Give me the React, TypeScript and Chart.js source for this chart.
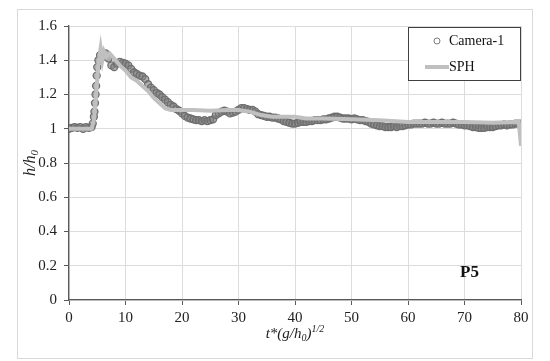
import { useEffect, useRef } from "react";
import { Chart, registerables } from "chart.js";
Chart.register(...registerables);

const camT = [0, 0.5, 1, 1.5, 2, 2.5, 3, 3.5, 4, 4.2, 4.4, 4.5, 4.6, 4.7, 4.8, 4.9, 5, 5.2, 5.5, 6, 6.5, 7, 7.5, 8, 8.5, 9, 9.5, 10, 10.5, 11, 11.5, 12, 12.5, 13, 13.5, 14, 14.5, 15, 15.5, 16, 16.5, 17, 17.5, 18, 18.5, 19, 19.5, 20, 20.5, 21, 21.5, 22, 22.5, 23, 23.5, 24, 24.5, 25, 25.5, 26, 26.5, 27, 27.5, 28, 28.5, 29, 29.5, 30, 30.5, 31, 31.5, 32, 32.5, 33, 33.5, 34, 34.5, 35, 35.5, 36, 36.5, 37, 37.5, 38, 38.5, 39, 39.5, 40, 40.5, 41, 41.5, 42, 42.5, 43, 43.5, 44, 44.5, 45, 45.5, 46, 46.5, 47, 47.5, 48, 48.5, 49, 49.5, 50, 50.5, 51, 51.5, 52, 52.5, 53, 53.5, 54, 54.5, 55, 55.5, 56, 56.5, 57, 57.5, 58, 58.5, 59, 59.5, 60, 60.5, 61, 61.5, 62, 62.5, 63, 63.5, 64, 64.5, 65, 65.5, 66, 66.5, 67, 67.5, 68, 68.5, 69, 69.5, 70, 70.5, 71, 71.5, 72, 72.5, 73, 73.5, 74, 74.5, 75, 75.5, 76, 76.5, 77, 77.5, 78, 78.5, 79, 79.5, 80];
const camH = [1.0, 1.005, 1.01, 1.005, 1.01, 1.0, 1.01, 1.005, 1.01, 1.03, 1.07, 1.1, 1.15, 1.2, 1.25, 1.31, 1.36, 1.4, 1.43, 1.42, 1.44, 1.41, 1.37, 1.36, 1.38, 1.39, 1.385, 1.38, 1.37, 1.35, 1.33, 1.32, 1.31, 1.305, 1.29, 1.26, 1.24, 1.225, 1.21, 1.2, 1.185, 1.17, 1.155, 1.14, 1.13, 1.115, 1.105, 1.09, 1.075, 1.065, 1.06, 1.055, 1.05, 1.05, 1.045, 1.05, 1.045, 1.05, 1.055, 1.08, 1.09, 1.1, 1.105, 1.1, 1.09, 1.095, 1.1, 1.11, 1.12, 1.12, 1.115, 1.11, 1.11, 1.1, 1.085, 1.08, 1.075, 1.07, 1.07, 1.065, 1.065, 1.06, 1.055, 1.045, 1.04, 1.035, 1.03, 1.03, 1.035, 1.04, 1.04, 1.04, 1.045, 1.045, 1.05, 1.05, 1.05, 1.055, 1.055, 1.06, 1.065, 1.07, 1.07, 1.065, 1.06, 1.06, 1.06, 1.055, 1.06, 1.055, 1.05, 1.05, 1.045, 1.04, 1.03, 1.025, 1.02, 1.015, 1.015, 1.01, 1.01, 1.01, 1.015, 1.01, 1.015, 1.015, 1.02, 1.025, 1.025, 1.03, 1.03, 1.03, 1.03, 1.035, 1.03, 1.03, 1.035, 1.03, 1.03, 1.035, 1.03, 1.03, 1.03, 1.035, 1.03, 1.025, 1.025, 1.02, 1.02, 1.015, 1.01, 1.01, 1.005, 1.005, 1.005, 1.01, 1.01, 1.01, 1.015, 1.02, 1.02, 1.025, 1.02, 1.025, 1.025, 1.03, 1.03, 1.03];

const sphT = [0, 4.0, 4.4, 4.8, 5.2, 5.6, 5.9, 6.2, 6.6, 7.2, 8.0, 9.0, 10.0, 11.0, 12.0, 13.0, 14.0, 15.0, 16.0, 17.0, 18.0, 20, 22, 25, 28, 30, 32, 34, 36, 40, 42, 45, 50, 55, 60, 65, 70, 75, 79.6, 80];
const sphH = [1.0, 1.0, 1.05, 1.2, 1.38, 1.47, 1.4, 1.45, 1.42, 1.44, 1.41, 1.37, 1.34, 1.3, 1.28, 1.25, 1.22, 1.18, 1.15, 1.12, 1.11, 1.11, 1.11, 1.105, 1.11, 1.11, 1.1, 1.08, 1.07, 1.07, 1.06, 1.06, 1.055, 1.05, 1.04, 1.04, 1.04, 1.035, 1.04, 0.9];

const seriesNames = ["Camera-1", "SPH"];
const panelLabel = "P5";

const SERIF = "'Liberation Serif', 'DejaVu Serif', serif";

type Part = { text: string; font: string; dy: number };

function drawRich(ctx: CanvasRenderingContext2D, parts: Part[], x: number, y: number) {
  let w = 0;
  for (const p of parts) {
    ctx.font = p.font;
    w += ctx.measureText(p.text).width;
  }
  let cx = x - w / 2;
  ctx.textBaseline = "middle";
  ctx.textAlign = "left";
  for (const p of parts) {
    ctx.font = p.font;
    ctx.fillText(p.text, cx, y + p.dy);
    cx += ctx.measureText(p.text).width;
  }
}

const deco = {
  id: "deco",
  beforeDraw(chart: any) {
    const ctx = chart.ctx as CanvasRenderingContext2D;
    ctx.save();
    ctx.fillStyle = "#ffffff";
    ctx.fillRect(0, 0, chart.width, chart.height);
    ctx.strokeStyle = "#d9d9d9";
    ctx.lineWidth = 1;
    ctx.strokeRect(17.5, 9.5, 515, 349);
    ctx.restore();
  },
  afterDraw(chart: any) {
    const ctx = chart.ctx as CanvasRenderingContext2D;
    const area = chart.chartArea;
    ctx.save();
    ctx.fillStyle = "#222222";
    const it = `italic 15px ${SERIF}`;
    const itS = `italic 10px ${SERIF}`;
    drawRich(
      ctx,
      [
        { text: "t*(g/h", font: it, dy: 0 },
        { text: "0", font: itS, dy: 4 },
        { text: ")", font: it, dy: 0 },
        { text: "1/2", font: itS, dy: -5 },
      ],
      (area.left + area.right) / 2,
      334
    );
    ctx.save();
    ctx.translate(31, (area.top + area.bottom) / 2);
    ctx.rotate(-Math.PI / 2);
    drawRich(
      ctx,
      [
        { text: "h/h", font: `italic 16px ${SERIF}`, dy: 0 },
        { text: "0", font: `italic 11px ${SERIF}`, dy: 4 },
      ],
      0,
      0
    );
    ctx.restore();

    const lx = 408, ly = 27, lw = 112, lh = 53;
    ctx.fillStyle = "#ffffff";
    ctx.fillRect(lx, ly, lw, lh);
    ctx.strokeStyle = "#404040";
    ctx.lineWidth = 1;
    ctx.strokeRect(lx + 0.5, ly + 0.5, lw, lh);
    ctx.beginPath();
    ctx.arc(437, 41, 3, 0, Math.PI * 2);
    ctx.strokeStyle = "#7a7a7a";
    ctx.lineWidth = 1;
    ctx.stroke();
    ctx.beginPath();
    ctx.moveTo(425, 67);
    ctx.lineTo(449, 67);
    ctx.strokeStyle = "#bfbfbf";
    ctx.lineWidth = 4;
    ctx.stroke();
    ctx.fillStyle = "#111111";
    ctx.font = `14px ${SERIF}`;
    ctx.textAlign = "left";
    ctx.textBaseline = "middle";
    ctx.fillText(seriesNames[0], 449, 41);
    ctx.fillText(seriesNames[1], 449, 67);

    ctx.font = `bold 17px ${SERIF}`;
    ctx.fillText(panelLabel, 460, 273);
    ctx.restore();
  },
};

export default function App() {
  const ref = useRef<HTMLCanvasElement | null>(null);
  useEffect(() => {
    document.body.style.margin = "0";
    const canvas = ref.current;
    if (!canvas) return;
    const chart = new Chart(canvas, {
      type: "scatter",
      data: {
        datasets: [
          {
            label: seriesNames[1],
            data: sphT.map((t, i) => ({ x: t, y: sphH[i] })),
            showLine: true,
            borderColor: "#c0c0c0",
            borderWidth: 4,
            pointRadius: 0,
            tension: 0,
            order: 1,
          } as any,
          {
            label: seriesNames[0],
            data: camT.map((t, i) => ({ x: t, y: camH[i] })),
            showLine: false,
            pointRadius: 3.5,
            pointBorderWidth: 1.3,
            pointBorderColor: "#6e6e6e",
            pointBackgroundColor: "rgba(125,125,125,0.6)",
            order: 2,
          } as any,
        ],
      },
      options: {
        responsive: false,
        animation: false,
        devicePixelRatio: 1,
        layout: { padding: { left: 0, top: 26, right: 29, bottom: 0 } },
        plugins: { legend: { display: false }, tooltip: { enabled: false } },
        scales: {
          x: {
            type: "linear",
            min: 0,
            max: 80,
            ticks: {
              stepSize: 10,
              color: "#222222",
              font: { family: SERIF, size: 15 },
              padding: 4,
            },
            grid: { color: "#dcdcdc", tickColor: "#595959", tickLength: 5, lineWidth: 1 },
            border: { color: "#595959", width: 1.3 },
            afterFit: (s: any) => {
              s.height = 61;
            },
          },
          y: {
            type: "linear",
            min: 0,
            max: 1.6,
            ticks: {
              stepSize: 0.2,
              color: "#222222",
              font: { family: SERIF, size: 15 },
              padding: 7,
              callback: (v: any) => String(Number(Number(v).toFixed(1))),
            },
            grid: { color: "#dcdcdc", tickColor: "#595959", tickLength: 5, lineWidth: 1 },
            border: { color: "#595959", width: 1.3 },
            afterFit: (s: any) => {
              s.width = 69;
            },
          },
        },
      },
      plugins: [deco],
    });
    return () => chart.destroy();
  }, []);
  return (
    <canvas
      ref={ref}
      width={550}
      height={361}
      style={{ display: "block", width: 550, height: 361 }}
    />
  );
}
